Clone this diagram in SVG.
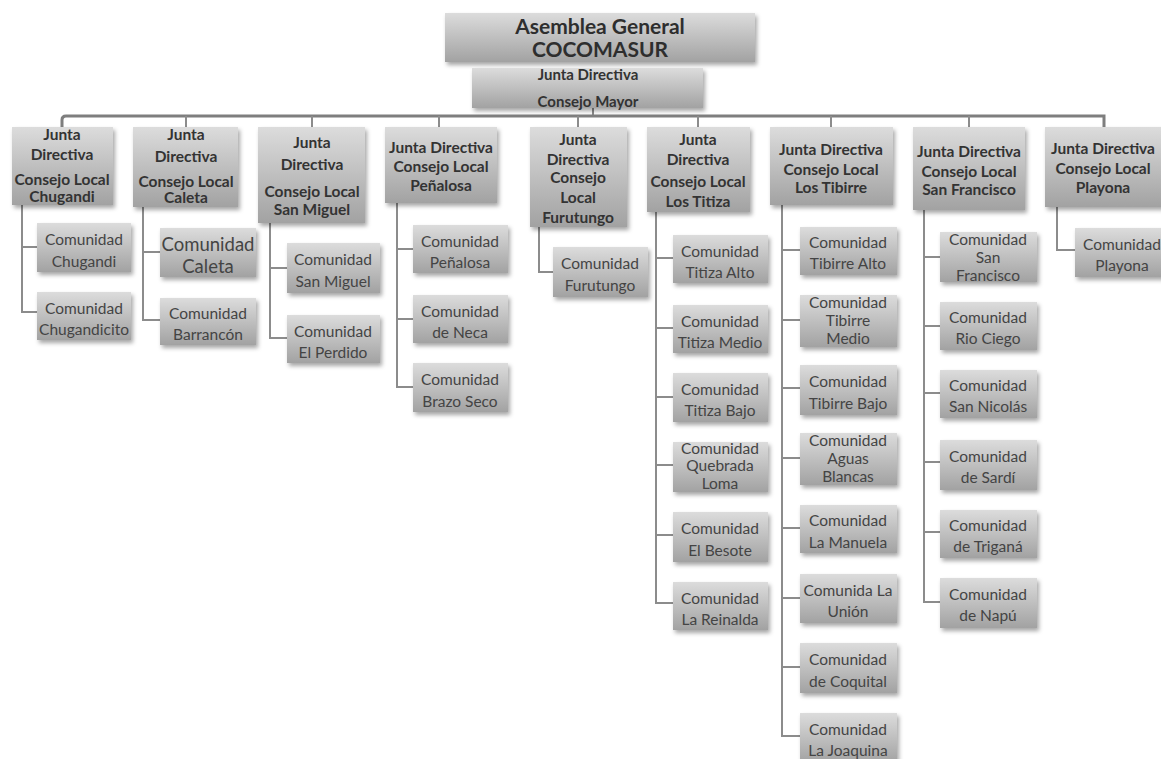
<svg xmlns="http://www.w3.org/2000/svg" width="1161" height="759" viewBox="0 0 1161 759">
<defs>
<linearGradient id="g" x1="0" y1="0" x2="0" y2="1">
<stop offset="0" stop-color="#dcdcdc"/>
<stop offset="1" stop-color="#a2a2a2"/>
</linearGradient>
<filter id="sh" x="-10%" y="-10%" width="130%" height="140%">
<feDropShadow dx="2" dy="3" stdDeviation="2" flood-color="#000" flood-opacity="0.35"/>
</filter>
<style>
rect{fill:url(#g);filter:url(#sh)}
text{font-family:Lato,"Liberation Sans",sans-serif;text-anchor:middle;fill:#444}
.h{font-weight:bold;font-size:15.5px;fill:#333}
.c{font-size:15.5px}
.t{font-weight:bold;font-size:21px;fill:#2e2e2e}
.j{font-weight:bold;font-size:15px;fill:#333}
#connectors path{fill:none;stroke:#8c8c8c;stroke-width:2}
</style>
</defs>
<rect x="0" y="0" width="1161" height="759" style="fill:#fff;filter:none"/>

<g id="connectors">
<path d="M593,108 V116"/>
<path d="M62,127 V120 Q62,116 66,116 H1104 V127" style="stroke-width:3;stroke:#7e7e7e"/>
<path d="M186,116 V127 M312,116 V127 M439,116 V127 M578,116 V127 M698,116 V127 M831,116 V127 M969,116 V127"/>
<path d="M22,205 V312 H37 M22,247 H37"/>
<path d="M143,207 V320 H160 M143,252 H160"/>
<path d="M270,223 V338 H287 M270,268 H287"/>
<path d="M397,203 V387 H413 M397,249 H413 M397,319 H413"/>
<path d="M539,227 V272 H553"/>
<path d="M656,212 V603 H673 M656,258 H673 M656,328 H673 M656,397 H673 M656,465 H673 M656,535 H673"/>
<path d="M782,205 V736 H800 M782,250 H800 M782,320 H800 M782,388 H800 M782,458 H800 M782,528 H800 M782,598 H800 M782,667 H800"/>
<path d="M924,210 V602 H940 M924,257 H940 M924,326 H940 M924,393 H940 M924,462 H940 M924,532 H940"/>
<path d="M1057,207 V250 H1075"/>
</g>

<g id="asamblea">
<rect x="445" y="13" width="310" height="49"/>
<text class="t" x="600" y="34">Asemblea General</text>
<text class="t" x="600" y="57">COCOMASUR</text>
</g>
<g id="consejo-mayor">
<rect x="472" y="68" width="231" height="40"/>
<text class="j" x="588" y="80">Junta Directiva</text>
<text class="j" x="588" y="107">Consejo Mayor</text>
</g>

<g id="cl-chugandi">
<rect x="12" y="127" width="101" height="78"/>
<text class="h" x="62" y="140">Junta</text>
<text class="h" x="62" y="160">Directiva</text>
<text class="h" x="62" y="185">Consejo Local</text>
<text class="h" x="62" y="202">Chugandi</text>
</g>
<g id="cl-caleta">
<rect x="133" y="127" width="105" height="80"/>
<text class="h" x="186" y="140">Junta</text>
<text class="h" x="186" y="162">Directiva</text>
<text class="h" x="186" y="187">Consejo Local</text>
<text class="h" x="186" y="203">Caleta</text>
</g>
<g id="cl-sanmiguel">
<rect x="258" y="127" width="107" height="96"/>
<text class="h" x="312" y="148">Junta</text>
<text class="h" x="312" y="170">Directiva</text>
<text class="h" x="312" y="197">Consejo Local</text>
<text class="h" x="312" y="215">San Miguel</text>
</g>
<g id="cl-penalosa">
<rect x="385" y="127" width="112" height="76"/>
<text class="h" x="441" y="153">Junta Directiva</text>
<text class="h" x="441" y="172">Consejo Local</text>
<text class="h" x="441" y="191">Peñalosa</text>
</g>
<g id="cl-furutungo">
<rect x="530" y="127" width="97" height="100"/>
<text class="h" x="578" y="145">Junta</text>
<text class="h" x="578" y="165">Directiva</text>
<text class="h" x="578" y="183">Consejo</text>
<text class="h" x="578" y="203">Local</text>
<text class="h" x="578" y="223">Furutungo</text>
</g>
<g id="cl-titiza">
<rect x="647" y="127" width="103" height="85"/>
<text class="h" x="698" y="145">Junta</text>
<text class="h" x="698" y="165">Directiva</text>
<text class="h" x="698" y="187">Consejo Local</text>
<text class="h" x="698" y="207">Los Titiza</text>
</g>
<g id="cl-tibirre">
<rect x="770" y="127" width="123" height="78"/>
<text class="h" x="831" y="155">Junta Directiva</text>
<text class="h" x="831" y="175">Consejo Local</text>
<text class="h" x="831" y="193">Los Tibirre</text>
</g>
<g id="cl-sanfrancisco">
<rect x="913" y="127" width="112" height="83"/>
<text class="h" x="969" y="157">Junta Directiva</text>
<text class="h" x="969" y="177">Consejo Local</text>
<text class="h" x="969" y="195">San Francisco</text>
</g>
<g id="cl-playona">
<rect x="1045" y="127" width="118" height="80"/>
<text class="h" x="1103" y="154">Junta Directiva</text>
<text class="h" x="1103" y="174">Consejo Local</text>
<text class="h" x="1103" y="193">Playona</text>
</g>

<g id="c-chugandi"><rect x="37" y="223" width="94" height="49"/><text class="c" x="84" y="245">Comunidad</text><text class="c" x="84" y="267">Chugandi</text></g>
<g id="c-chugandicito"><rect x="37" y="292" width="94" height="48"/><text class="c" x="84" y="314">Comunidad</text><text class="c" x="84" y="335">Chugandicito</text></g>
<g id="c-caleta"><rect x="160" y="228" width="96" height="49"/><text class="c" x="208" y="251" style="font-size:18.5px">Comunidad</text><text class="c" x="208" y="273" style="font-size:18.5px">Caleta</text></g>
<g id="c-barrancon"><rect x="160" y="298" width="96" height="47"/><text class="c" x="208" y="319">Comunidad</text><text class="c" x="208" y="340">Barrancón</text></g>
<g id="c-sanmiguel"><rect x="287" y="243" width="93" height="50"/><text class="c" x="333" y="265">Comunidad</text><text class="c" x="333" y="287">San Miguel</text></g>
<g id="c-elperdido"><rect x="287" y="315" width="93" height="48"/><text class="c" x="333" y="337">Comunidad</text><text class="c" x="333" y="358">El Perdido</text></g>
<g id="c-penalosa"><rect x="413" y="225" width="95" height="48"/><text class="c" x="460" y="247">Comunidad</text><text class="c" x="460" y="268">Peñalosa</text></g>
<g id="c-deneca"><rect x="413" y="295" width="95" height="48"/><text class="c" x="460" y="317">Comunidad</text><text class="c" x="460" y="338">de Neca</text></g>
<g id="c-brazoseco"><rect x="413" y="363" width="95" height="49"/><text class="c" x="460" y="385">Comunidad</text><text class="c" x="460" y="407">Brazo Seco</text></g>
<g id="c-furutungo"><rect x="553" y="247" width="95" height="50"/><text class="c" x="600" y="269">Comunidad</text><text class="c" x="600" y="291">Furutungo</text></g>

<g id="c-titizaalto"><rect x="673" y="235" width="95" height="48"/><text class="c" x="720" y="257">Comunidad</text><text class="c" x="720" y="278">Titiza Alto</text></g>
<g id="c-titizamedio"><rect x="673" y="305" width="95" height="48"/><text class="c" x="720" y="327">Comunidad</text><text class="c" x="720" y="348">Titiza Medio</text></g>
<g id="c-titizabajo"><rect x="673" y="373" width="95" height="49"/><text class="c" x="720" y="395">Comunidad</text><text class="c" x="720" y="416">Titiza Bajo</text></g>
<g id="c-quebradaloma"><rect x="673" y="442" width="95" height="50"/><text class="c" x="720" y="454">Comunidad</text><text class="c" x="720" y="471">Quebrada</text><text class="c" x="720" y="489">Loma</text></g>
<g id="c-elbesote"><rect x="673" y="512" width="95" height="50"/><text class="c" x="720" y="534">Comunidad</text><text class="c" x="720" y="556">El Besote</text></g>
<g id="c-lareinalda"><rect x="673" y="582" width="95" height="48"/><text class="c" x="720" y="604">Comunidad</text><text class="c" x="720" y="625">La Reinalda</text></g>

<g id="c-tibirrealto"><rect x="800" y="227" width="97" height="48"/><text class="c" x="848" y="248">Comunidad</text><text class="c" x="848" y="269">Tibirre Alto</text></g>
<g id="c-tibirremedio"><rect x="800" y="295" width="97" height="52"/><text class="c" x="848" y="308">Comunidad</text><text class="c" x="848" y="326">Tibirre</text><text class="c" x="848" y="344">Medio</text></g>
<g id="c-tibirrebajo"><rect x="800" y="365" width="97" height="50"/><text class="c" x="848" y="387">Comunidad</text><text class="c" x="848" y="409">Tibirre Bajo</text></g>
<g id="c-aguasblancas"><rect x="800" y="433" width="97" height="52"/><text class="c" x="848" y="446">Comunidad</text><text class="c" x="848" y="464">Aguas</text><text class="c" x="848" y="482">Blancas</text></g>
<g id="c-lamanuela"><rect x="800" y="505" width="97" height="48"/><text class="c" x="848" y="526">Comunidad</text><text class="c" x="848" y="548">La Manuela</text></g>
<g id="c-launion"><rect x="800" y="574" width="97" height="49"/><text class="c" x="848" y="596">Comunida La</text><text class="c" x="848" y="617">Unión</text></g>
<g id="c-coquital"><rect x="800" y="643" width="97" height="50"/><text class="c" x="848" y="665">Comunidad</text><text class="c" x="848" y="687">de Coquital</text></g>
<g id="c-lajoaquina"><rect x="800" y="713" width="97" height="50"/><text class="c" x="848" y="735">Comunidad</text><text class="c" x="848" y="756">La Joaquina</text></g>

<g id="c-sanfrancisco"><rect x="940" y="232" width="97" height="50"/><text class="c" x="988" y="245">Comunidad</text><text class="c" x="988" y="263">San</text><text class="c" x="988" y="281">Francisco</text></g>
<g id="c-riociego"><rect x="940" y="302" width="97" height="48"/><text class="c" x="988" y="323">Comunidad</text><text class="c" x="988" y="344">Rio Ciego</text></g>
<g id="c-sannicolas"><rect x="940" y="370" width="97" height="48"/><text class="c" x="988" y="391">Comunidad</text><text class="c" x="988" y="412">San Nicolás</text></g>
<g id="c-desardi"><rect x="940" y="440" width="97" height="50"/><text class="c" x="988" y="462">Comunidad</text><text class="c" x="988" y="483">de Sardí</text></g>
<g id="c-detrigana"><rect x="940" y="510" width="97" height="48"/><text class="c" x="988" y="531">Comunidad</text><text class="c" x="988" y="552">de Triganá</text></g>
<g id="c-denapu"><rect x="940" y="578" width="97" height="50"/><text class="c" x="988" y="600">Comunidad</text><text class="c" x="988" y="621">de Napú</text></g>

<g id="c-playona"><rect x="1075" y="228" width="92" height="49"/><text class="c" x="1122" y="250">Comunidad</text><text class="c" x="1122" y="271">Playona</text></g>
</svg>
